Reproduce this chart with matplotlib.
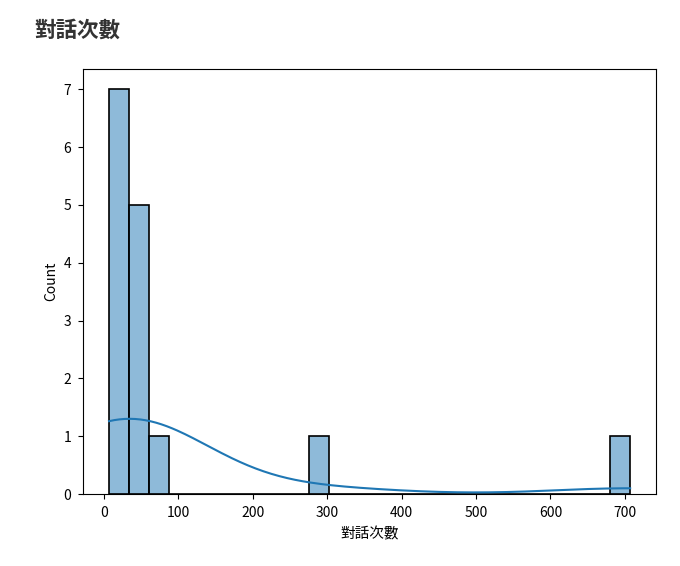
import numpy as np
import matplotlib
matplotlib.use("Agg")
import matplotlib.pyplot as plt
import seaborn as sns

# 對話次數 (每位使用者)
counts = [7, 12, 15, 20, 24, 28, 31,
          36, 40, 45, 50, 56,
          72, 290, 707]
n_bins = 26

plt.rcParams['font.family'] = ['Noto Sans CJK JP', 'DejaVu Sans']

fig = plt.figure(figsize=(6.8, 5.66), dpi=100)
ax = fig.add_axes([0.122, 0.127, 0.843, 0.751])

sns.histplot(x=counts, bins=n_bins, kde=True, ax=ax,
             color="#1f77b4", edgecolor="black", linewidth=1.2)

ax.set_xlabel("對話次數", fontsize=10.5, labelpad=5)
ax.set_ylabel("Count", fontsize=10)
ax.set_xticks([0, 100, 200, 300, 400, 500, 600, 700])
ax.tick_params(labelsize=10, pad=5)

fig.text(0.05, 0.947, "對話次數", fontsize=15.5, fontweight="bold",
         color="#333333", va="center", ha="left")

fig.savefig("out.png", dpi=100)
